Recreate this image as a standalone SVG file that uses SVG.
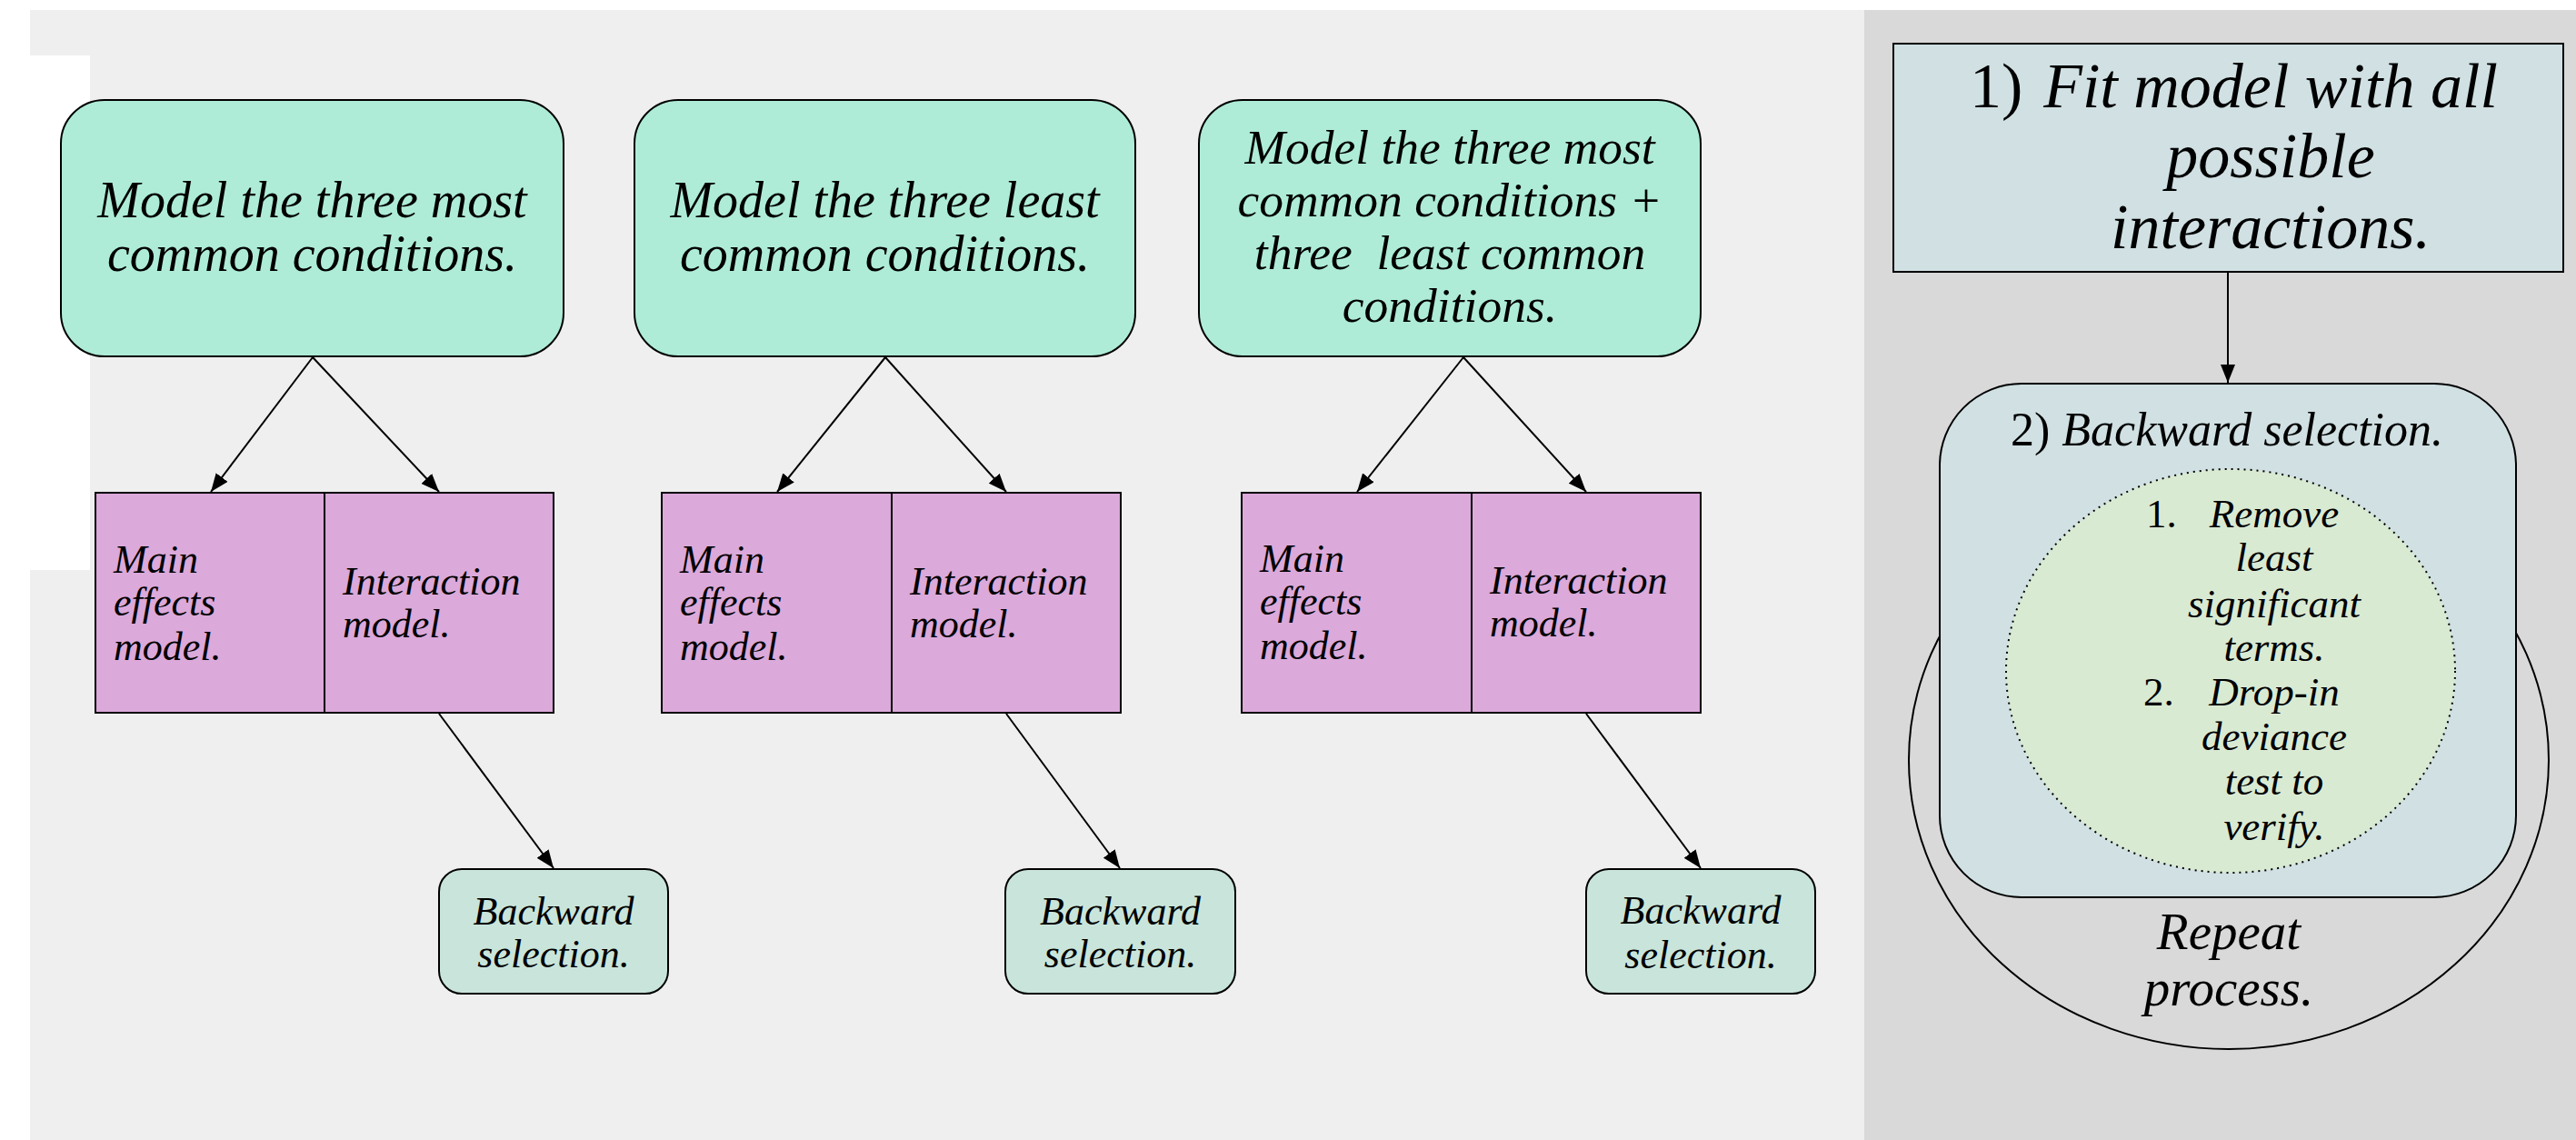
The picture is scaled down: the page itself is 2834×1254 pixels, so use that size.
<svg xmlns="http://www.w3.org/2000/svg" width="2834" height="1254" viewBox="0 0 2834 1254">
<style>
text{font-family:"Liberation Serif","Times New Roman",serif;font-style:italic;fill:#000}
.num{font-style:normal}
.g{fill:#AEECD8;stroke:#000;stroke-width:2}
.p{fill:#DBA9DA;stroke:#000;stroke-width:2}
.b{fill:#C9E5DB;stroke:#000;stroke-width:2}
.bl{fill:#D0E0E3;stroke:#000;stroke-width:2}
.c{stroke:#000;stroke-width:2;fill:none}
.t56{font-size:56px;text-anchor:middle}
.t53{font-size:53.5px;text-anchor:middle}
.t44{font-size:44px}
.m{text-anchor:middle}
</style>
<defs>
<marker id="ah" viewBox="0 0 20 16" refX="20" refY="8" markerWidth="20" markerHeight="16" markerUnits="userSpaceOnUse" orient="auto">
<path d="M0,0 L20,8 L0,16 z" fill="#000"/>
</marker>
</defs>
<g id="background">
<rect x="0" y="0" width="2834" height="1254" fill="#FFFFFF"/>
<rect x="33" y="11" width="2018" height="1243" fill="#EFEFEF"/>
<rect x="33" y="61" width="66" height="566" fill="#FFFFFF"/>
<rect x="2051" y="11" width="783" height="1243" fill="#D9D9D9"/>
</g>
<g id="connectors">
<line class="c" x1="344" y1="393" x2="232" y2="541" marker-end="url(#ah)"/>
<line class="c" x1="344" y1="393" x2="483" y2="541" marker-end="url(#ah)"/>
<line class="c" x1="483" y1="785" x2="609" y2="955" marker-end="url(#ah)"/>
<line class="c" x1="974" y1="393" x2="855" y2="541" marker-end="url(#ah)"/>
<line class="c" x1="974" y1="393" x2="1107" y2="541" marker-end="url(#ah)"/>
<line class="c" x1="1107" y1="785" x2="1232" y2="955" marker-end="url(#ah)"/>
<line class="c" x1="1610" y1="393" x2="1493" y2="541" marker-end="url(#ah)"/>
<line class="c" x1="1610" y1="393" x2="1745" y2="541" marker-end="url(#ah)"/>
<line class="c" x1="1745" y1="785" x2="1871" y2="955" marker-end="url(#ah)"/>
<line class="c" x1="2451" y1="299" x2="2451" y2="421" marker-end="url(#ah)"/>
</g>
<g id="top1">
<rect class="g" x="67" y="110" width="553" height="282" rx="48" ry="48"/>
<text class="t56" x="343.5" y="239">Model the three most</text>
<text class="t56" x="343.5" y="298">common conditions.</text>
</g>
<g id="top2">
<rect class="g" x="698" y="110" width="551" height="282" rx="48" ry="48"/>
<text class="t56" x="973.5" y="239">Model the three least</text>
<text class="t56" x="973.5" y="298">common conditions.</text>
</g>
<g id="top3">
<rect class="g" x="1319" y="110" width="552" height="282" rx="48" ry="48"/>
<text class="t53" x="1595" y="180">Model the three most</text>
<text class="t53" x="1595" y="238">common conditions +</text>
<text class="t53" x="1595" y="296" xml:space="preserve">three  least common</text>
<text class="t53" x="1595" y="354">conditions.</text>
</g>
<g id="pink1">
<rect class="p" x="105" y="542" width="252" height="242"/>
<rect class="p" x="357" y="542" width="252" height="242"/>
<text class="t44" x="125" y="630">Main</text>
<text class="t44" x="125" y="677">effects</text>
<text class="t44" x="125" y="726">model.</text>
<text class="t44" x="377" y="654">Interaction</text>
<text class="t44" x="377" y="701">model.</text>
</g>
<g id="pink2">
<rect class="p" x="728" y="542" width="253" height="242"/>
<rect class="p" x="981" y="542" width="252" height="242"/>
<text class="t44" x="748" y="630">Main</text>
<text class="t44" x="748" y="677">effects</text>
<text class="t44" x="748" y="726">model.</text>
<text class="t44" x="1001" y="654">Interaction</text>
<text class="t44" x="1001" y="701">model.</text>
</g>
<g id="pink3">
<rect class="p" x="1366" y="542" width="253" height="242"/>
<rect class="p" x="1619" y="542" width="252" height="242"/>
<text class="t44" x="1386" y="629">Main</text>
<text class="t44" x="1386" y="676">effects</text>
<text class="t44" x="1386" y="725">model.</text>
<text class="t44" x="1639" y="653">Interaction</text>
<text class="t44" x="1639" y="700">model.</text>
</g>
<g id="bs1">
<rect class="b" x="483" y="956" width="252" height="137" rx="25" ry="25"/>
<text class="t44 m" x="609" y="1017">Backward</text>
<text class="t44 m" x="609" y="1064">selection.</text>
</g>
<g id="bs2">
<rect class="b" x="1106" y="956" width="253" height="137" rx="25" ry="25"/>
<text class="t44 m" x="1232.5" y="1017">Backward</text>
<text class="t44 m" x="1232.5" y="1064">selection.</text>
</g>
<g id="bs3">
<rect class="b" x="1745" y="956" width="252" height="137" rx="25" ry="25"/>
<text class="t44 m" x="1871" y="1016">Backward</text>
<text class="t44 m" x="1871" y="1065">selection.</text>
</g>
<g id="fit">
<rect class="bl" x="2083" y="48" width="737" height="251"/>
<text class="num" x="2167" y="118" font-size="70">1)</text>
<text x="2498" y="118" font-size="70" text-anchor="middle">Fit model with all</text>
<text x="2498" y="195" font-size="70" text-anchor="middle">possible</text>
<text x="2498" y="273" font-size="70" text-anchor="middle">interactions.</text>
</g>
<g id="repeat">
<ellipse cx="2452" cy="836" rx="352" ry="318" fill="none" stroke="#000" stroke-width="2"/>
<text x="2452" y="1044" font-size="57" text-anchor="middle">Repeat</text>
<text x="2452" y="1106" font-size="57" text-anchor="middle">process.</text>
</g>
<g id="backward">
<rect class="bl" x="2134" y="422" width="634" height="565" rx="90" ry="90"/>
<text x="2450" y="490" font-size="52" text-anchor="middle"><tspan class="num">2)</tspan> Backward selection.</text>
</g>
<g id="steps">
<ellipse cx="2454" cy="738" rx="247" ry="222" fill="#D9EAD3" stroke="#000" stroke-width="2" stroke-dasharray="2,5"/>
<text class="num" x="2361" y="580" font-size="45">1.</text>
<text x="2502" y="580" font-size="45" text-anchor="middle">Remove</text>
<text x="2502" y="628" font-size="45" text-anchor="middle">least</text>
<text x="2502" y="679" font-size="45" text-anchor="middle">significant</text>
<text x="2502" y="727" font-size="45" text-anchor="middle">terms.</text>
<text class="num" x="2358" y="776" font-size="45">2.</text>
<text x="2502" y="776" font-size="45" text-anchor="middle">Drop-in</text>
<text x="2502" y="825" font-size="45" text-anchor="middle">deviance</text>
<text x="2502" y="874" font-size="45" text-anchor="middle">test to</text>
<text x="2502" y="924" font-size="45" text-anchor="middle">verify.</text>
</g>
</svg>
